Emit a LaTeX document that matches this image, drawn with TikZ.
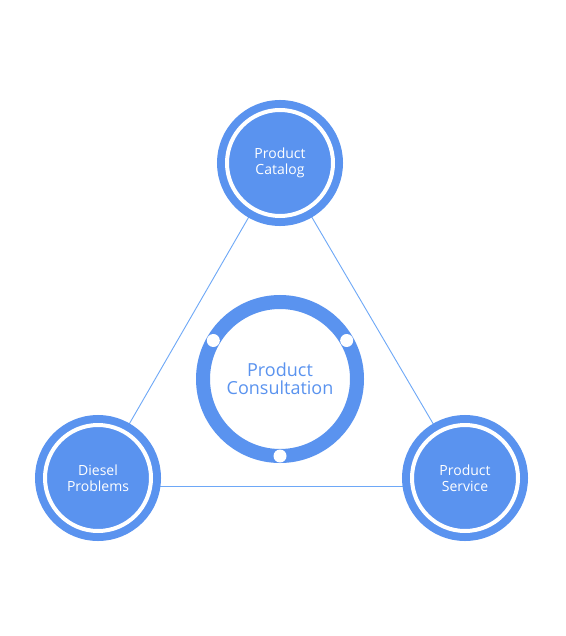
\documentclass[tikz,border=0pt]{standalone}
\usepackage{fontspec}
\setmainfont{Open Sans}
\usepackage{xcolor}
\usepackage{tikz}
\usetikzlibrary{backgrounds}
\definecolor{HubBlue}{HTML}{5A93EF}
\definecolor{LinkBlue}{HTML}{6EA8F7}

\begin{document}
\begin{tikzpicture}[x=1pt, y=-1pt,
  hub/.style={circle, fill=HubBlue, draw=white, line width=4pt,
    minimum size=106pt, inner sep=0pt, align=center, text=white,
    font=\fontsize{14}{16.5}\selectfont,
    preaction={draw=HubBlue, line width=20pt}},
  ring/.style={circle, draw=HubBlue, line width=14pt, minimum size=154pt,
    inner sep=0pt, outer sep=0pt, align=center, text=HubBlue,
    font=\fontsize{18}{18}\selectfont},
  dot/.style={circle, fill=white, minimum size=13pt, inner sep=0pt},
  link/.style={draw=LinkBlue, line width=0.9pt}
]
  \useasboundingbox (0,0) rectangle (565,636);

  \node[hub] (catalog) at (280,163) {Product\\Catalog};
  \node[hub] (diesel) at (98,478) {Diesel\\Problems};
  \node[hub] (service) at (465,478) {Product\\Service};

  \node[ring] (consult) at (280,379) {Product\\Consultation};
  \node[dot] (dotL) at (consult.150) {};
  \node[dot] (dotR) at (consult.30) {};
  \node[dot] (dotB) at (consult.270) {};

  \begin{scope}[on background layer]
    \fill[white] (0,0) rectangle (565,636);
    \draw[link] (catalog.center) -- (diesel.center);
    \draw[link] (catalog.center) -- (service.center);
    \draw[link] ([yshift=-8pt]diesel.center) -- ([yshift=-8pt]service.center);
  \end{scope}
\end{tikzpicture}
\end{document}
